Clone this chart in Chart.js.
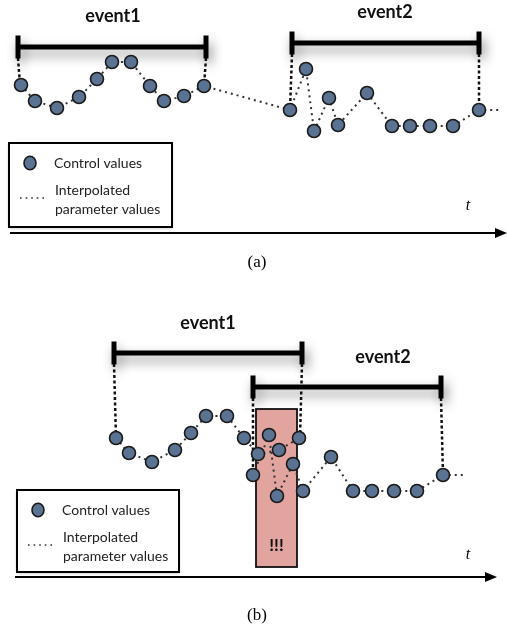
<!DOCTYPE html>
<html>
<head>
<meta charset="utf-8">
<script src="https://cdn.jsdelivr.net/npm/chart.js@4/dist/chart.umd.min.js"></script>
<style>
  body { margin: 0; background: #fff; }
  canvas { display: block; }
</style>
</head>
<body>
<canvas id="diagram" width="507" height="632"></canvas>
<script>
// panel (a): control values, last entry is the trailing interpolation (no marker)
var aTime  = [21, 35, 57, 79, 97, 112, 131, 150, 164, 184, 204, 290, 306, 314, 329, 338, 367, 392, 410, 430, 453, 479, 500];
var aValue = [85, 101, 108, 97, 79, 62, 62, 86, 101, 96, 86, 110, 69, 131, 98, 125, 93, 126, 126, 126, 126, 110, 110];

// panel (b): the two events overlap
var bEvent1Time  = [116, 129, 152, 175, 191, 206, 227, 244, 258, 279, 299];
var bEvent1Value = [438, 453, 462, 450, 433, 416, 416, 438, 454, 450, 438];
var bEvent2Time  = [253, 269, 277, 293, 303, 331, 353, 372, 394, 417, 443, 466];
var bEvent2Value = [475, 435, 496, 464, 491, 457, 491, 491, 491, 491, 475, 475];

// event spans
var eventLabels = ['event1', 'event2'];
var aEventStart = [18, 292];
var aEventEnd   = [206, 479];
var aEventLevel = [47, 43];
var aLabelTime  = [113, 385];
var bEventStart = [114, 253];
var bEventEnd   = [302, 441];
var bEventLevel = [353, 387];
var bLabelTime  = [208, 383];

// conflict zone in (b)
var conflictTime  = [256, 297];
var conflictLevel = [409, 567];

var pointFill = '#5b7392';
var datasets = [];

function pts(xs, ys) {
    var out = [];
    for (var i = 0; i < xs.length; i++) {
        out.push({x: xs[i], y: ys[i]});
    }
    return out;
}

function series(xs, ys, trailing) {
    var radius = xs.map(function(v, i) {
        return (trailing && i == xs.length - 1) ? 0 : 6.5;
    });
    datasets.push({
        data: pts(xs, ys),
        showLine: true,
        borderColor: '#333',
        borderWidth: 2,
        borderDash: [2, 4],
        pointRadius: radius,
        pointBackgroundColor: pointFill,
        pointBorderColor: '#1a1a1a',
        pointBorderWidth: 1.6,
        clip: false,
        order: 0
    });
}

function eventBar(start, end, level, firstPt, lastPt) {
    // the bar
    datasets.push({
        data: [{x: start, y: level}, {x: end, y: level}],
        showLine: true,
        borderColor: '#000',
        borderWidth: 5,
        pointRadius: 0,
        shadow: true,
        clip: false,
        order: 3
    });
    // end caps
    datasets.push({
        data: [{x: start, y: level}, {x: end, y: level}],
        showLine: false,
        pointStyle: 'line',
        rotation: 90,
        pointRadius: 11.5,
        pointBorderWidth: 5,
        pointBorderColor: '#000',
        shadow: true,
        clip: false,
        order: 3
    });
    // dashed drop lines to first and last control value
    [[start, firstPt], [end, lastPt]].forEach(function(d) {
        datasets.push({
            data: [{x: d[0], y: level + 11}, d[1]],
            showLine: true,
            borderColor: '#111',
            borderWidth: 2.5,
            borderDash: [3, 2.5],
            pointRadius: 0,
            clip: false,
            order: 5
        });
    });
}

series(aTime, aValue, true);
series(bEvent1Time, bEvent1Value, false);
series(bEvent2Time, bEvent2Value, true);

eventBar(aEventStart[0], aEventEnd[0], aEventLevel[0], {x: 20, y: aValue[0]}, {x: 204, y: aValue[10]});
eventBar(aEventStart[1], aEventEnd[1], aEventLevel[1], {x: 290, y: aValue[11]}, {x: 479, y: aValue[21]});
eventBar(bEventStart[0], bEventEnd[0], bEventLevel[0], {x: 116, y: bEvent1Value[0]}, {x: 300, y: bEvent1Value[10]});
eventBar(bEventStart[1], bEventEnd[1], bEventLevel[1], {x: 253, y: bEvent2Value[0]}, {x: 443, y: bEvent2Value[10]});

var shadowPlugin = {
    id: 'shadow',
    beforeDatasetDraw: function(chart, args) {
        if (chart.data.datasets[args.index].shadow) {
            var c = chart.ctx;
            c.save();
            c.shadowColor = 'rgba(0,0,0,0.45)';
            c.shadowBlur = 12;
            c.shadowOffsetX = 3;
            c.shadowOffsetY = 6;
        }
    },
    afterDatasetDraw: function(chart, args) {
        if (chart.data.datasets[args.index].shadow) {
            chart.ctx.restore();
        }
    }
};

var decorPlugin = {
    id: 'decor',
    beforeDatasetsDraw: function(chart) {
        var c = chart.ctx, sx = chart.scales.x, sy = chart.scales.y;
        // conflict zone
        var x0 = sx.getPixelForValue(conflictTime[0]), x1 = sx.getPixelForValue(conflictTime[1]);
        var y0 = sy.getPixelForValue(conflictLevel[0]), y1 = sy.getPixelForValue(conflictLevel[1]);
        c.save();
        c.fillStyle = '#e2a49e';
        c.strokeStyle = '#111';
        c.lineWidth = 1.8;
        c.fillRect(x0, y0, x1 - x0, y1 - y0);
        c.strokeRect(x0, y0, x1 - x0, y1 - y0);
        c.fillStyle = '#111';
        c.font = 'bold 17px Lato';
        c.textAlign = 'center';
        c.textBaseline = 'middle';
        c.fillText('!!!', (x0 + x1) / 2, 546);
        c.restore();
    },
    afterDraw: function(chart) {
        var c = chart.ctx, sx = chart.scales.x, sy = chart.scales.y;
        c.save();

        // event labels
        c.fillStyle = '#111';
        c.font = 'bold 18px Lato';
        c.textAlign = 'center';
        c.textBaseline = 'middle';
        for (var i = 0; i < eventLabels.length; i++) {
            c.fillText(eventLabels[i], sx.getPixelForValue(aLabelTime[i]), sy.getPixelForValue(aEventLevel[i]) - 31);
            c.fillText(eventLabels[i], sx.getPixelForValue(bLabelTime[i]), sy.getPixelForValue(bEventLevel[i]) - 30);
        }

        // time axes
        drawAxis(c, 10, 497, 233);
        drawAxis(c, 15, 487, 577);

        c.font = 'italic 16px "Liberation Serif"';
        c.fillStyle = '#000';
        c.fillText('t', 468, 206);
        c.fillText('t', 468, 555);

        c.font = '17px "Liberation Serif"';
        c.fillText('(a)', 257, 263);
        c.fillText('(b)', 257, 616);

        // legends
        drawLegend(c, 9, 143, 163, 84);
        drawLegend(c, 17, 490, 162, 82);

        c.restore();
    }
};

function drawAxis(c, x0, x1, y) {
    c.strokeStyle = '#000';
    c.lineWidth = 2;
    c.beginPath();
    c.moveTo(x0, y);
    c.lineTo(x1, y);
    c.stroke();
    c.fillStyle = '#000';
    c.beginPath();
    c.moveTo(x1 + 10, y);
    c.lineTo(x1 - 2, y - 5);
    c.lineTo(x1 - 2, y + 5);
    c.closePath();
    c.fill();
}

function drawLegend(c, x, y, w, h) {
    c.save();
    c.shadowColor = 'rgba(0,0,0,0.3)';
    c.shadowBlur = 3;
    c.shadowOffsetY = 1;
    c.fillStyle = '#fff';
    c.fillRect(x, y, w, h);
    c.restore();
    c.strokeStyle = '#000';
    c.lineWidth = 2;
    c.strokeRect(x, y, w, h);

    // marker
    c.fillStyle = pointFill;
    c.strokeStyle = '#1a1a1a';
    c.lineWidth = 1.6;
    c.beginPath();
    c.ellipse(x + 21, y + 20, 6, 6.8, 0, 0, Math.PI * 2);
    c.fill();
    c.stroke();

    // dotted sample
    c.save();
    c.strokeStyle = '#333';
    c.lineWidth = 1.6;
    c.setLineDash([1.6, 4]);
    c.beginPath();
    c.moveTo(x + 11, y + 55);
    c.lineTo(x + 37, y + 55);
    c.stroke();
    c.restore();

    c.fillStyle = '#222';
    c.font = '14px Lato';
    c.textAlign = 'left';
    c.textBaseline = 'middle';
    c.fillText('Control values', x + 45, y + 20);
    c.fillText('Interpolated', x + 46, y + 47);
    c.fillText('parameter values', x + 46, y + 66);
}

new Chart(document.getElementById('diagram'), {
    type: 'scatter',
    data: { datasets: datasets },
    options: {
        responsive: false,
        animation: false,
        layout: { padding: 0, autoPadding: false },
        plugins: { legend: { display: false }, tooltip: { enabled: false } },
        scales: {
            x: { type: 'linear', min: 0, max: 507, display: false },
            y: { type: 'linear', min: 0, max: 632, reverse: true, display: false }
        }
    },
    plugins: [shadowPlugin, decorPlugin]
});
</script>
</body>
</html>
